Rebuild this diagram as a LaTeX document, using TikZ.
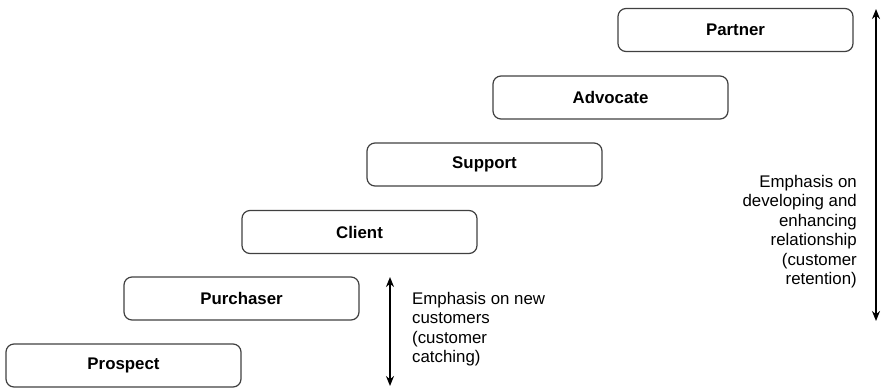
\documentclass[tikz,border=0pt]{standalone}
\usepackage{fontspec}
\setmainfont{Liberation Sans}
\usetikzlibrary{arrows.meta}

\tikzset{
  stage/.style={draw=black!75, line width=1.2bp, rounded corners=8bp,
    minimum width=235bp, minimum height=43bp, inner sep=0pt,
    font=\fontsize{16.9}{19.5}\selectfont\bfseries},
  emph/.style={inner sep=0pt, font=\fontsize{16.9}{19.5}\selectfont},
  span/.style={{Stealth[length=10bp,width=8bp]}-{Stealth[length=10bp,width=8bp]}, line width=1.8bp}
}

\begin{document}
\begin{tikzpicture}[x=1bp, y=-1bp]
  \useasboundingbox (0,0) rectangle (885,389);

  % Stairs of customer stages, bottom left to top right
  \foreach \lbl/\x/\y [count=\i from 0] in {Prospect/123.5/365.5, Purchaser/241.5/298.5,
      Client/359.5/232, Support/484.5/164.5, Advocate/610.5/97.5, Partner/735.5/30} {
    \node[stage] (s\i) at (\x,\y) {\lbl};
  }

  % Acquisition span
  \coordinate (newtop) at (390,277);
  \coordinate (newbot) at (390,386);
  \draw[span] (newtop) -- (newbot);
  \node[emph, anchor=north west, align=left] (newtxt) at (412,292)
    {Emphasis on new\\customers\\(customer\\catching)};

  % Retention span
  \coordinate (keeptop) at (876,9);
  \coordinate (keepbot) at (876,321);
  \draw[span] (keeptop) -- (keepbot);
  \node[emph, anchor=north east, align=right] (keeptxt) at (857,175)
    {Emphasis on\\developing and\\enhancing\\relationship\\(customer\\retention)};
\end{tikzpicture}
\end{document}
